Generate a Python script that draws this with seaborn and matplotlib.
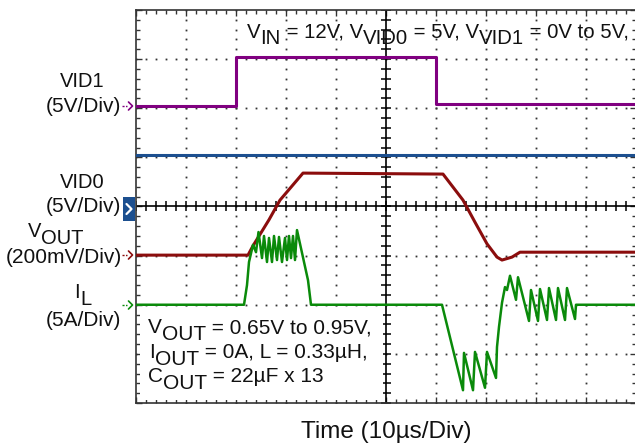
import numpy as np
import matplotlib
matplotlib.use("Agg")
import matplotlib.pyplot as plt
from matplotlib.patches import Rectangle
from matplotlib.lines import Line2D
from matplotlib.transforms import IdentityTransform
import seaborn as sns

# ---------------- scope traces (time in us, 10us/div; level in screen divisions) ----------------
vid1_t = [0, 20, 20, 60, 60, 100]
vid1_y = [6.05, 6.05, 7.05, 7.05, 6.08, 6.08]

vid0_t = [0, 100]
vid0_y = [5.05, 5.05]

vout_t = [0, 22.4, 23.4, 26.6, 28.8, 33.4, 61.4, 65.4, 67.8, 70.2, 72.2, 73.2, 75.2, 76.8, 100]
vout_y = [3.01, 3.01, 3.20, 3.73, 4.13, 4.68, 4.66, 4.13, 3.68, 3.24, 2.97, 2.91, 2.97, 3.07, 3.07]

il_t = [0, 21.6, 22.2, 22.6, 23.4, 24.0, 24.5, 25.2, 25.6, 26.2, 26.6, 27.2, 27.6, 28.2, 28.6,
        29.2, 29.8, 30.2, 30.6, 31.0, 31.4, 31.8, 32.2, 34.4, 35.0, 61.2,
        65.4, 65.6, 67.4, 67.8, 69.8, 70.2, 72.0, 72.2, 72.6, 73.2, 73.8, 74.2, 74.8, 76.0, 76.4,
        78.6, 79.0, 80.4, 80.8, 82.2, 82.6, 84.0, 84.4, 85.8, 86.2, 87.8, 88.0, 100]
il_y = [2.0, 2.0, 2.40, 2.87, 3.22, 3.07, 3.48, 2.95, 3.40, 2.87, 3.36, 2.87, 3.40, 2.91, 3.38,
        2.87, 3.36, 2.91, 3.40, 2.95, 3.40, 2.91, 3.52, 2.50, 2.0, 2.0,
        0.26, 1.02, 0.26, 1.04, 0.31, 1.04, 0.51, 1.14, 1.55, 2.04, 2.36, 2.30, 2.59, 2.10, 2.56,
        1.67, 2.30, 1.67, 2.32, 1.69, 2.34, 1.69, 2.34, 1.69, 2.34, 1.71, 2.0, 2.0]

# text pieces: (text, is_subscript)
cond_top = [("V", 0), ("IN", 1), (" = 12V, V", 0), ("VID0", 1), (" = 5V, V", 0), ("VID1", 1),
            (" = 0V to 5V,", 0)]
cond_1 = [("V", 0), ("OUT", 1), (" = 0.65V to 0.95V,", 0)]
cond_2 = [("I", 0), ("OUT", 1), (" = 0A, L = 0.33µH,", 0)]
cond_3 = [("C", 0), ("OUT", 1), (" = 22µF x 13", 0)]

c_vid1 = "#800080"
c_vid0 = "#1c4f8f"
c_vout = "#8b0d0d"
c_il = "#0a8a0a"
txt = "#111111"

sns.set_theme(style="white")
plt.rcParams['font.family'] = ['Liberation Sans', 'DejaVu Sans']

W, H = 635, 448
fig = plt.figure(figsize=(6.35, 4.48), dpi=100)
ax = fig.add_axes([136 / W, 45 / H, 500 / W, 393 / H])
renderer = fig.canvas.get_renderer()

# ---------------- graticule ----------------
ax.set_xlim(0, 100)
ax.set_ylim(0, 8)
dots_y = np.arange(0, 8.01, 0.2)
dots_x = np.arange(0, 100.1, 2)
for gx in [10, 20, 30, 40, 60, 70, 80, 90]:
    ax.plot([gx] * len(dots_y), dots_y, ls='', marker='s', ms=1.3, mew=0, color='#333333', zorder=1)
for gy in [1, 2, 3, 5, 6, 7]:
    ax.plot(dots_x, [gy] * len(dots_x), ls='', marker='s', ms=1.3, mew=0, color='#333333', zorder=1)

ax.axvline(50, color='black', lw=1.2, zorder=1.5)
ax.axhline(4, color='black', lw=1.2, zorder=1.5)
ax.plot(dots_x, [4] * len(dots_x), ls='', marker='|', ms=7, mew=1.1, color='black', zorder=1.5)
ax.plot([50] * len(dots_y), dots_y, ls='', marker='_', ms=7, mew=1.1, color='black', zorder=1.5)

ax.set_xticks(np.arange(0, 101, 10))
ax.set_xticks(np.arange(0, 101, 2), minor=True)
ax.set_yticks(np.arange(0, 8.1, 1))
ax.set_yticks(np.arange(0, 8.01, 0.2), minor=True)
ax.tick_params(which='both', direction='in', top=True, bottom=True, left=True, right=True,
               labelbottom=False, labelleft=False, color='#333333', width=1.0)
ax.tick_params(which='major', length=4.5)
ax.tick_params(which='minor', length=3)
for s in ax.spines.values():
    s.set_color('#333333')
    s.set_linewidth(1.2)

# ---------------- traces ----------------
sns.lineplot(x=vid1_t, y=vid1_y, ax=ax, color=c_vid1, lw=2.2, estimator=None, sort=False, zorder=3)
sns.lineplot(x=vid0_t, y=vid0_y, ax=ax, color=c_vid0, lw=2.2, estimator=None, sort=False, zorder=3)
sns.lineplot(x=vout_t, y=vout_y, ax=ax, color=c_vout, lw=2.2, estimator=None, sort=False, zorder=3)
sns.lineplot(x=il_t, y=il_y, ax=ax, color=c_il, lw=1.8, estimator=None, sort=False, zorder=3)

# white panel behind the test conditions
ax.add_patch(Rectangle((0.8, 0.06), 48.6, 1.86, facecolor='white', edgecolor='none', zorder=4))


# ---------------- text helpers (pixel coords, y from top) ----------------
def width_of(s, size):
    a = fig.text(0, 0, "|" + s + "|", fontsize=size)
    b = fig.text(0, 0, "||", fontsize=size)
    w = a.get_window_extent(renderer).width - b.get_window_extent(renderer).width
    a.remove()
    b.remove()
    return w


def rich(x, y, pieces, size, ha='left', drop=6.5):
    total = sum(width_of(s, size) for s, _ in pieces)
    if ha == 'center':
        x -= total / 2
    elif ha == 'right':
        x -= total
    for s, sub in pieces:
        yy = H - y - (drop if sub else 0)
        fig.text(x, yy, s, fontsize=size, color=txt, va='baseline', ha='left',
                 transform=IdentityTransform(), zorder=6)
        x += width_of(s, size)


rich(247, 37.5, cond_top, 14.7)
rich(148, 333, cond_1, 15)
rich(149, 358, cond_2, 15)
rich(148, 382, cond_3, 15)

rich(82, 87, [("VID1", 0)], 14.5, ha='center')
rich(121, 112, [("(5V/Div)", 0)], 15, ha='right')
rich(82, 188, [("VID0", 0)], 14.5, ha='center')
rich(121, 212, [("(5V/Div)", 0)], 15, ha='right')
rich(56, 237, [("V", 0), ("OUT", 1)], 14.5, ha='center')
rich(122, 263, [("(200mV/Div)", 0)], 15, ha='right')
rich(83, 298, [("I", 0), ("L", 1)], 14.5, ha='center')
rich(121, 326, [("(5A/Div)", 0)], 15, ha='right')


# channel markers
def marker(y, color):
    fig.add_artist(Line2D([122 / W, 127 / W], [1 - y / H] * 2, color=color, lw=1.0, ls=(0, (1.5, 1))))
    fig.add_artist(Line2D([128.5 / W, 132.5 / W, 128.5 / W],
                          [1 - (y - 4) / H, 1 - y / H, 1 - (y + 4) / H], color=color, lw=1.2))


marker(106, c_vid1)
marker(255, c_vout)
marker(305, c_il)

fig.patches.append(Rectangle((123 / W, 1 - 221 / H), 12 / W, 24 / H,
                             transform=fig.transFigure, facecolor=c_vid0, edgecolor='none'))
fig.add_artist(Line2D([126.5 / W, 131.5 / W, 126.5 / W],
                      [1 - 204 / H, 1 - 209 / H, 1 - 214 / H], color='white', lw=1.6))

fig.text(386 / W, 1 - 438 / H, "Time (10µs/Div)", fontsize=17.5, ha='center', va='baseline', color=txt)

fig.savefig("out.png", dpi=100)
